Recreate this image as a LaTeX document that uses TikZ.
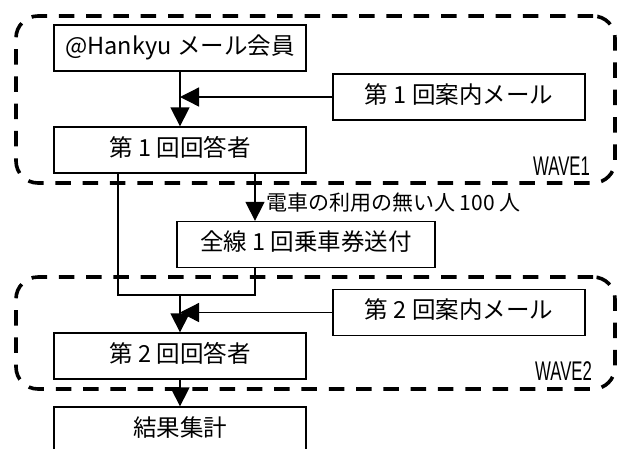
\documentclass[tikz,border=0pt]{standalone}
\usepackage{fontspec}
\setmainfont{Noto Sans CJK JP}
\newfontfamily\wavefont{Liberation Sans}
\usetikzlibrary{arrows.meta}
\begin{document}
\begin{tikzpicture}[x=1pt,y=-1pt,
  box/.style={draw, line width=1.3pt, minimum width=252pt, minimum height=46pt,
    inner sep=0pt, text height=1.2em, text depth=0pt, font=\fontsize{23.5}{23.5}\selectfont},
  frame/.style={draw, line width=3.6pt, dash pattern=on 15.5pt off 11.8pt, rounded corners=22pt, inner sep=0pt},
  conn/.style={line width=1.3pt},
  arr/.style={conn, -{Triangle[width=19pt,length=19pt]}},
  lbl/.style={font=\fontsize{21}{21}\selectfont, inner sep=0pt},
  wave/.style={font=\wavefont\fontsize{27}{27}\selectfont, xscale=0.62, inner sep=0pt}
]
\useasboundingbox (0,0) rectangle (623,448);
% frames
\node[frame, minimum width=599pt, minimum height=167pt] (W1) at (315.5,99.5) {};
\node[frame, minimum width=599pt, minimum height=112pt] (W2) at (315.5,333) {};
\node[wave, anchor=base east] (T1) at (590,175) {WAVE1};
\node[wave, anchor=base east] (T2) at (592,380) {WAVE2};
% boxes
\node[box] (A) at (180,48) {@Hankyu メール会員};
\node[box] (B) at (180,150) {第 1 回回答者};
\node[box] (M1) at (459,97) {第 1 回案内メール};
\node[box, minimum width=258pt] (C) at (306,244.5) {全線 1 回乗車券送付};
\node[box] (M2) at (459,312.5) {第 2 回案内メール};
\node[box] (D) at (180,356) {第 2 回回答者};
\node[box] (E) at (180,430) {結果集計};
% connectors
\draw[arr] (A) -- (B);
\coordinate (j1) at (A.south |- M1.west);
\draw[arr] (M1) -- (j1);
\coordinate (bL) at ([xshift=-62pt]B.south);
\coordinate (bR) at ([xshift=75pt]B.south);
\coordinate (J) at (180,295);
\draw[arr] (bR) -- (bR |- C.north);
\draw[conn] (bL) |- (bR |- J) -- (bR |- C.south);
\node[lbl, anchor=west] (L) at (266,203) {電車の利用の無い人 100 人};
\draw[arr] (J) -- (D);
\coordinate (j2) at (D.north |- M2.west);
\draw[arr] (M2) -- (j2);
\draw[arr] (D) -- (E);
\end{tikzpicture}
\end{document}
